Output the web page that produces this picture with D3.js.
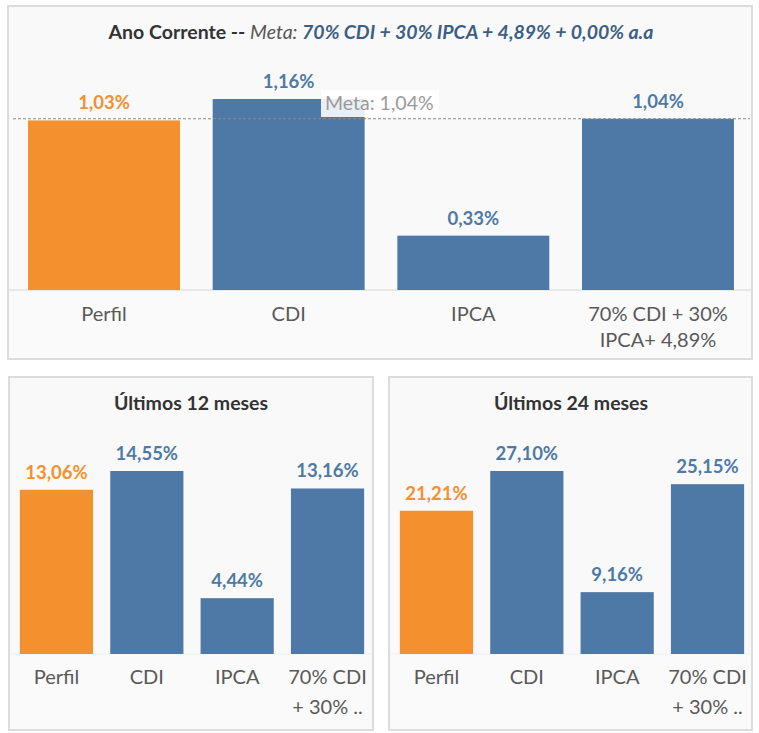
<!DOCTYPE html>
<html>
<head>
<meta charset="utf-8">
<script src="https://cdn.jsdelivr.net/npm/d3@7"></script>
<style>
  body { margin: 0; background: #fff; font-family: Lato, "Open Sans", sans-serif; }
</style>
</head>
<body>
<div id="chart"></div>
<script>
// data
const categories = ["Perfil", "CDI", "IPCA", "70% CDI + 30% IPCA+ 4,89%"];
const anoCorrente = [1.03, 1.16, 0.33, 1.04];
const ultimos12 = [13.06, 14.55, 4.44, 13.16];
const ultimos24 = [21.21, 27.10, 9.16, 25.15];
const metaAno = 1.04;
const topTickLabels = [["Perfil"], ["CDI"], ["IPCA"], ["70% CDI + 30%", "IPCA+ 4,89%"]];
const bottomTickLabels = [["Perfil"], ["CDI"], ["IPCA"], ["70% CDI", "+ 30% .."]];

const orange = "#f4902e";
const blue = "#4e79a7";

const fmt = v => d3.format(".2f")(v).replace(".", ",") + "%";

const svg = d3.select("#chart").append("svg")
    .attr("width", 759)
    .attr("height", 733);

// panel = box, plot = bars area
function drawPanel(p) {
    const g = svg.append("g");

    g.append("rect")
        .attr("x", p.box.x).attr("y", p.box.y)
        .attr("width", p.box.w).attr("height", p.box.h)
        .attr("fill", "#f9f9f9")
        .attr("stroke", "#dcdcdc")
        .attr("stroke-width", 2);

    const xScale = d3.scaleBand()
        .domain(categories)
        .range(p.xRange)
        .paddingInner(p.pad)
        .paddingOuter(p.pad / 2);

    const yScale = d3.scaleLinear()
        .domain([0, d3.max(p.values)])
        .range([p.baseline, p.top]);

    // lighter strip under the bars
    g.append("rect")
        .attr("x", p.box.x + 1).attr("y", p.baseline)
        .attr("width", p.box.w - 2).attr("height", p.box.y + p.box.h - p.baseline - 1)
        .attr("fill", "#fafafa");

    g.append("line")
        .attr("x1", p.box.x + 1).attr("x2", p.box.x + p.box.w - 1)
        .attr("y1", p.baseline).attr("y2", p.baseline)
        .attr("stroke", p.lineColor)
        .attr("stroke-width", 1);

    g.selectAll(".bar")
        .data(p.values)
        .join("rect")
        .attr("class", "bar")
        .attr("x", (d, i) => xScale(categories[i]))
        .attr("y", d => yScale(d))
        .attr("width", xScale.bandwidth())
        .attr("height", d => p.baseline - yScale(d))
        .attr("fill", (d, i) => i === 0 ? orange : blue);

    if (p.meta != null) {
        g.append("line")
            .attr("x1", p.box.x + 5).attr("x2", p.box.x + p.box.w - 2)
            .attr("y1", yScale(p.meta)).attr("y2", yScale(p.meta))
            .attr("stroke", "#8c8c8c")
            .attr("stroke-dasharray", "3,2")
            .attr("stroke-width", 1);
    }

    g.selectAll(".val")
        .data(p.values)
        .join("text")
        .attr("class", "val")
        .attr("x", (d, i) => xScale(categories[i]) + xScale.bandwidth() / 2)
        .attr("y", d => yScale(d) - 11)
        .attr("text-anchor", "middle")
        .attr("font-size", p.valSize)
        .attr("font-weight", "bold")
        .attr("fill", (d, i) => i === 0 ? orange : blue)
        .text(d => fmt(d));

    if (p.meta != null) {
        const mg = g.append("g");
        mg.append("rect")
            .attr("x", 321).attr("y", 90)
            .attr("width", 118).attr("height", 27)
            .attr("fill", "#fff")
            .attr("opacity", 0.88);
        mg.append("text")
            .attr("x", 325).attr("y", 110)
            .attr("font-size", 19.5)
            .attr("fill", "#9a9a9a")
            .text("Meta: " + fmt(p.meta));
    }

    // category axis
    const xAxis = d3.axisBottom(xScale).tickSize(0).tickFormat("");
    const ax = g.append("g")
        .attr("transform", `translate(0,${p.baseline})`)
        .call(xAxis);
    ax.select(".domain").remove();
    ax.selectAll(".tick").each(function (d, i) {
        const t = d3.select(this).append("text")
            .attr("text-anchor", "middle")
            .attr("fill", "#595959")
            .attr("font-size", p.tickSize)
            .attr("font-family", "Lato, sans-serif");
        p.ticks[i].forEach((line, j) => {
            t.append("tspan").attr("x", 0).attr("y", p.tickY + j * p.tickGap).text(line);
        });
    });

    // title
    const title = g.append("text")
        .attr("x", p.titleX).attr("y", p.titleY)
        .attr("text-anchor", "middle")
        .attr("font-size", p.titleSize)
        .attr("font-weight", "bold")
        .attr("fill", "#333");
    p.title.forEach(part => {
        const s = title.append("tspan").text(part.text);
        if (part.italic) s.attr("font-style", "italic");
        if (part.fill) s.attr("fill", part.fill);
        if (part.normal) s.attr("font-weight", "normal");
    });
}

drawPanel({
    box: {x: 8, y: 6, w: 744, h: 353},
    xRange: [11.7, 750.3], pad: 0.177,
    baseline: 290, top: 99, values: anoCorrente, meta: metaAno,
    lineColor: "#d6d6d6", valSize: 18.5,
    ticks: topTickLabels, tickY: 31, tickGap: 26, tickSize: 20,
    titleX: 381, titleY: 39, titleSize: 19.5,
    title: [
        {text: "Ano Corrente -- "},
        {text: "Meta: ", italic: true, normal: true, fill: "#555"},
        {text: "70% CDI + 30% IPCA + 4,89% + 0,00% a.a", italic: true, fill: "#3d5f86"}
    ]
});

drawPanel({
    box: {x: 9, y: 377, w: 364, h: 353},
    xRange: [11.3, 372.7], pad: 0.19,
    baseline: 654, top: 471, values: ultimos12, meta: null,
    lineColor: "#efefef", valSize: 18.5,
    ticks: bottomTickLabels, tickY: 30, tickGap: 30, tickSize: 20,
    titleX: 191, titleY: 410, titleSize: 19.5,
    title: [{text: "Últimos 12 meses"}]
});

drawPanel({
    box: {x: 389, y: 377, w: 363, h: 353},
    xRange: [391.3, 752.7], pad: 0.19,
    baseline: 654, top: 471, values: ultimos24, meta: null,
    lineColor: "#efefef", valSize: 18.5,
    ticks: bottomTickLabels, tickY: 30, tickGap: 30, tickSize: 20,
    titleX: 571, titleY: 410, titleSize: 19.5,
    title: [{text: "Últimos 24 meses"}]
});
</script>
</body>
</html>
